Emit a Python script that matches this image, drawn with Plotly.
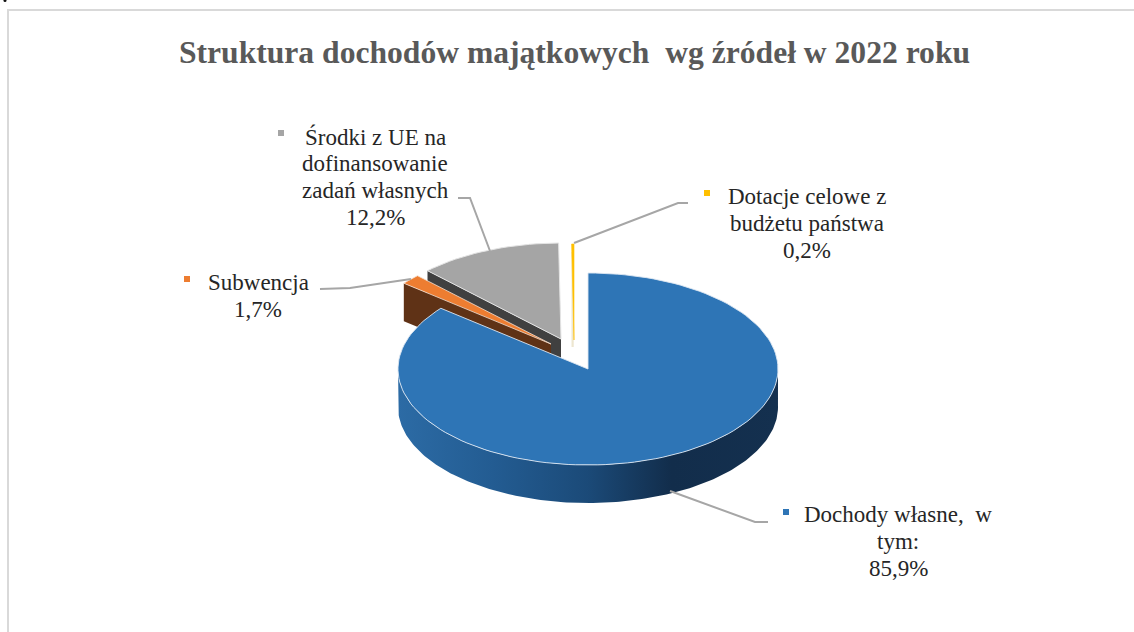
import math
import plotly.graph_objects as go

# --- data ---
categories = [["Dochody własne,\u00a0 w", "tym:"], ["Subwencja"],
              ["Środki z UE na", "dofinansowanie", "zadań własnych"],
              ["Dotacje celowe z", "budżetu państwa"]]
shares = [85.9, 1.7, 12.2, 0.2]
share_labels = ["85,9%", "1,7%", "12,2%", "0,2%"]
colors = ["#2E75B6", "#ED7D31", "#A5A5A5", "#FFC000"]
wall_colors = ["#1F4E79", "#5F3216", "#404040", "#EDE6D0"]
title_text = "Struktura dochodów majątkowych  wg źródeł w 2022 roku"

# --- layout constants (pixels on the page-sized axes) ---
W, H = 1134, 632
CX, CY, RX, RY, DEPTH = 588, 369, 190, 96, 38
LINE_H = 27
explode = [(0, 0), (-37, -25), (-27, -30), (-14, -29)]
label_pos = [(898, 541), (258, 296), (375, 177), (807, 223)]
key_pos = [(786, 512), (187, 279), (281, 133), (707, 193)]
leaders = [
    [(768, 522), (755, 522), (670, 491)],
    [(320, 289), (350, 288), (411, 279)],
    [(458, 198), (470, 198), (490, 251)],
    [(688, 203), (678, 203), (574, 243)],
]

# slice angles from the values (clockwise from 12 o'clock)
total = sum(shares)
angles = []
acc = 0.0
for s in shares:
    angles.append((acc / total * 2 * math.pi, (acc + s) / total * 2 * math.pi))
    acc += s


def pt(t, ox=0, oy=0, dz=0):
    return CX + ox + RX * math.sin(t), CY + oy - RY * math.cos(t) + dz


def arc(t0, t1, ox=0, oy=0, dz=0, n=160):
    k = max(2, int(n * abs(t1 - t0) / (2 * math.pi)) + 2)
    return [pt(t0 + (t1 - t0) * i / (k - 1), ox, oy, dz) for i in range(k)]


def sector(i):
    ox, oy = explode[i]
    t0, t1 = angles[i]
    return [(CX + ox, CY + oy)] + arc(t0, t1, ox, oy) + [(CX + ox, CY + oy)]


def cut_wall(i, t):
    ox, oy = explode[i]
    a = (CX + ox, CY + oy)
    b = pt(t, ox, oy)
    return [a, b, (b[0], b[1] + DEPTH), (a[0], a[1] + DEPTH), a]


fig = go.Figure()


def poly(points, color, line=None, lw=0, **kw):
    fig.add_trace(go.Scatter(
        x=[p[0] for p in points], y=[p[1] for p in points], mode="lines",
        fill="toself", fillcolor=color,
        line=dict(color=line or color, width=lw if line else 0),
        hoverinfo="skip", showlegend=False, **kw))


# chart-area border and the stray dot at the top-left of the source image
fig.add_trace(go.Scatter(x=[W, 8, 8], y=[10, 10, H], mode="lines",
                         line=dict(color="#D9D9D9", width=2),
                         hoverinfo="skip", showlegend=False))
fig.add_trace(go.Scatter(x=[5], y=[0.5], mode="markers", cliponaxis=False,
                         marker=dict(size=3, color="#111111", line=dict(width=0)),
                         hoverinfo="skip", showlegend=False))

# grey slice
poly(cut_wall(2, angles[2][0]), wall_colors[2])
poly(sector(2), colors[2], "#E4E4E4", 1)

# yellow slice: pale wall and thin top
ox, oy = explode[3]
top = pt(angles[3][0], ox, oy)
fig.add_trace(go.Scatter(x=[top[0] + 1, top[0] + 1], y=[top[1] + 8, CY + oy + 7], mode="lines",
                         line=dict(color=wall_colors[3], width=2.2),
                         hoverinfo="skip", showlegend=False))
poly(sector(3), colors[3], colors[3], 0.6)

# orange slice
poly(cut_wall(1, angles[1][0]), wall_colors[1])
poly(sector(1), colors[1], "#F3E0D2", 0.8)

# blue slice: side wall with gradient, then top
front = arc(math.pi / 2, 3 * math.pi / 2, n=360)
front_low = [(x, y + DEPTH) for x, y in reversed(front)]
wall_pts = front + front_low + [front[0]]
fig.add_trace(go.Scatter(
    x=[p[0] for p in wall_pts], y=[p[1] for p in wall_pts], mode="lines",
    fill="toself",
    fillgradient=dict(type="horizontal", colorscale=[
        [0, "#2C6BA5"], [0.25, "#235C92"], [0.5, "#1B4A78"],
        [0.72, "#122D4B"], [1, "#14304F"]]),
    line=dict(width=0), hoverinfo="skip", showlegend=False))
poly(sector(0), colors[0], "#DCE7F2", 0.9)

# leader lines
for pts in leaders:
    fig.add_trace(go.Scatter(x=[p[0] for p in pts], y=[p[1] for p in pts], mode="lines",
                             line=dict(color="#A6A6A6", width=2),
                             hoverinfo="skip", showlegend=False))

# legend keys
for (x, y), c in zip(key_pos, colors):
    fig.add_trace(go.Scatter(x=[x], y=[y], mode="markers",
                             marker=dict(symbol="square", size=6, color=c, line=dict(width=0)),
                             hoverinfo="skip", showlegend=False))

# labels: one annotation per line, because the reference's line pitch is tighter than Plotly's
for (x, y), cat, lab in zip(label_pos, categories, share_labels):
    lines = cat + [lab]
    y0 = y - LINE_H * (len(lines) - 1) / 2
    for j, ln in enumerate(lines):
        fig.add_annotation(x=x, y=y0 + j * LINE_H, xref="x", yref="y", text=ln, showarrow=False,
                           align="center", xanchor="center", yanchor="middle",
                           font=dict(family="Liberation Serif", size=23, color="#262626"))

fig.add_annotation(x=574, y=52, xref="x", yref="y", text=f"<b>{title_text}</b>", showarrow=False,
                   xanchor="center", yanchor="middle",
                   font=dict(family="Liberation Serif", size=31.6, color="#595959"))

fig.update_layout(
    width=W, height=H, margin=dict(l=0, r=0, t=0, b=0),
    paper_bgcolor="white", plot_bgcolor="white", showlegend=False,
    xaxis=dict(range=[0, W], visible=False, fixedrange=True),
    yaxis=dict(range=[H, 0], visible=False, fixedrange=True),
)
fig.write_html("out.html", config={"displayModeBar": False},
               post_script="document.body.style.margin='0';document.body.style.overflow='hidden';")
